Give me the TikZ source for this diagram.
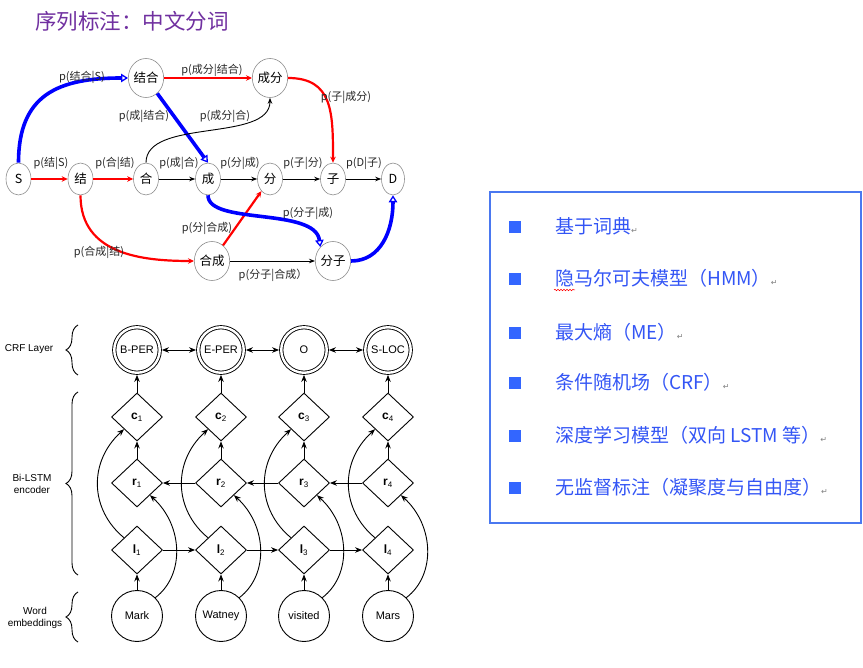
\documentclass[tikz,border=0pt]{standalone}
\usepackage{fontspec}
\setmainfont{Liberation Sans}
\newfontfamily\cjk{Noto Sans CJK SC}
\newfontfamily\dejavu{DejaVu Sans}
\usetikzlibrary{shapes.geometric,arrows.meta,decorations.pathreplacing,decorations.pathmorphing}
\definecolor{titlepurple}{HTML}{7030A0}
\definecolor{boxblue}{HTML}{4A78F0}
\definecolor{txtblue}{HTML}{3355F5}
\definecolor{bulletblue}{HTML}{3366FF}
\definecolor{ellgray}{HTML}{8C8C8C}
\newcommand\retmark{{\dejavu\fontsize{8}{8}\selectfont\textcolor{gray}{↵}}}
\begin{document}
\begin{tikzpicture}[x=1pt,y=-1pt,
  st/.style={ellipse, draw=ellgray, line width=0.6pt, fill=white, font=\cjk\fontsize{12.5}{12.5}\selectfont, inner sep=0pt, minimum width=25pt, minimum height=32pt},
  st2/.style={st, minimum width=34pt, minimum height=39pt},
  lbl/.style={font=\cjk\fontsize{11}{11}\selectfont, text=black!85, inner sep=0pt},
  redarr/.style={draw=red, line width=2.2pt, -{Stealth[length=6pt,width=5.5pt]}},
  bluearr/.style={draw=blue, line width=3.6pt, -{Triangle[open, length=7pt, width=8.5pt, line width=1.3pt]}},
  blackarr/.style={draw=black, line width=0.9pt, -{Stealth[length=6pt,width=4.5pt]}},
  crf/.style={circle, draw, double, double distance=2.4pt, line width=0.9pt, minimum size=45.5pt, inner sep=0pt, outer sep=2.2pt, font=\fontsize{11}{11}\selectfont},
  dia/.style={diamond, draw, line width=0.9pt, minimum width=51pt, minimum height=48pt, inner sep=0pt, font=\fontsize{12}{12}\selectfont},
  word/.style={circle, draw, line width=0.9pt, minimum size=51pt, inner sep=0pt, font=\fontsize{11}{11}\selectfont},
  barr/.style={draw, line width=0.9pt, -{Stealth[length=7pt,width=5.5pt]}},
  brc/.style={decorate, decoration={brace, amplitude=12pt}, line width=0.9pt},
  side/.style={font=\fontsize{10}{12}\selectfont, align=center, inner sep=0pt},
  bul/.style={fill=bulletblue, minimum size=12pt, inner sep=0pt},
  item/.style={anchor=base west, font=\cjk\fontsize{19}{19}\selectfont, text=txtblue, inner sep=0pt}
]
\useasboundingbox (0,0) rectangle (863,668);

% title
\node[anchor=base west, font=\cjk\fontsize{21.5}{22}\selectfont, text=titlepurple, inner sep=0pt] (title) at (35,29.5) {序列标注：中文分词};

% ---- word segmentation lattice ----
\node[st] (S) at (18.5,179) {S};
\node[st] (j) at (80.5,179) {结};
\node[st] (h) at (146,179) {合};
\node[st] (c) at (208,179) {成};
\node[st] (f) at (270,179) {分};
\node[st] (z) at (333,179) {子};
\node[st, minimum width=23pt] (D) at (393,179) {D};
\node[st2] (jh) at (146,78) {结合};
\node[st2] (cf) at (270,78) {成分};
\node[st2] (hc) at (212,261) {合成};
\node[st2] (fz) at (333,261) {分子};

\draw[redarr] (S) -- (j);
\draw[redarr] (j) -- (h);
\draw[blackarr] (h) -- (c);
\draw[blackarr] (c) -- (f);
\draw[blackarr] (f) -- (z);
\draw[blackarr] (z) -- (D);
\draw[redarr] (jh) -- (cf);
\draw[bluearr] (S.north) .. controls +(0,-68) and +(-70,0) .. (jh.west);
\draw[bluearr] (jh) -- (c.north);
\draw[blackarr] (h.north) .. controls +(0,-45) and +(0,45) .. (cf.south);
\draw[redarr] (cf.east) .. controls +(45,0) and +(0,-50) .. (z.north);
\draw[redarr] (j.south) .. controls +(0,60) and +(-50,0) .. (hc.west);
\draw[redarr] (hc) -- (f);
\draw[blackarr] (hc) -- (fz);
\draw[bluearr] (c.south) .. controls +(0,30) and +(-5,-40) .. (fz.north west);
\draw[bluearr] (fz.east) .. controls +(30,0) and +(0,35) .. (D.south);

\node[lbl] (l1) at (82,77) {p(结合|S)};
\node[lbl] (l2) at (212,70) {p(成分|结合)};
\node[lbl] (l3) at (346,97) {p(子|成分)};
\node[lbl] (l4) at (144,116) {p(成|结合)};
\node[lbl] (l5) at (225,116) {p(成分|合)};
\node[lbl] (l6) at (51,163) {p(结|S)};
\node[lbl] (l7) at (115,163) {p(合|结)};
\node[lbl] (l8) at (179,163) {p(成|合)};
\node[lbl] (l9) at (240,163) {p(分|成)};
\node[lbl] (l10) at (303,163) {p(子|分)};
\node[lbl] (l11) at (364,163) {p(D|子)};
\node[lbl] (l12) at (308,213) {p(分子|成)};
\node[lbl] (l13) at (207,228) {p(分|合成)};
\node[lbl] (l14) at (99,252) {p(合成|结)};
\node[lbl] (l15) at (273,275) {p(分子|合成）};

% ---- BiLSTM-CRF ----
\foreach \i/\x/\t/\w in {1/137/B-PER/Mark, 2/221/E-PER/Watney, 3/304/O/visited, 4/388/S-LOC/Mars}{
  \node[crf] (crf\i) at (\x,350) {\t};
  \node[dia] (c\i) at (\x,417) {\textbf{c}\textsubscript{\i}};
  \node[dia] (r\i) at (\x,483) {\textbf{r}\textsubscript{\i}};
  \node[dia] (l\i) at (\x,550) {\textbf{l}\textsubscript{\i}};
  \node[word] (w\i) at (\x,616) {\w};
}
\foreach \i in {1,...,4}{
  \draw[barr] (w\i) -- (l\i);
  \draw[barr] (r\i) -- (c\i);
  \draw[barr] (c\i) -- (crf\i);
  \draw[barr] (l\i.north west) .. controls +(-34,-28) and +(-36,33) .. (c\i.south west);
  \draw[barr] (w\i.45) .. controls +(30,-23) and +(33,30) .. (r\i.south east);
}
\foreach \i in {1,2,3}{
  \pgfmathtruncatemacro\j{\i+1}
  \draw[barr] (l\i) -- (l\j);
  \draw[barr] (r\j) -- (r\i);
  \draw[barr, {Stealth[length=7pt,width=5.5pt]}-{Stealth[length=7pt,width=5.5pt]}] (crf\i) -- (crf\j);
}
\draw[brc] (78,375) -- (78,325);
\draw[brc] (78,575) -- (78,392);
\draw[brc] (78,642) -- (78,592);
\node[side] (s1) at (29,349) {CRF Layer};
\node[side] (s2) at (32,484) {Bi-LSTM\\encoder};
\node[side] (s3) at (35,618) {Word\\embeddings};

% ---- right box ----
\draw[boxblue, line width=1.3pt] (490,192) rectangle (861,523);
\foreach \k/\y in {1/227,2/279,3/333,4/383,5/436,6/488}{
  \node[bul] (b\k) at (515,\y) {};
}
\node[item] (t1) at (555,233.5) {基于词典\retmark};
\node[item] (t2) at (555,285.5) {隐马尔可夫模型（HMM）\retmark};
\node[item] (t3) at (555,339.5) {最大熵（ME）\retmark};
\node[item] (t4) at (555,389.5) {条件随机场（CRF）\retmark};
\node[item] (t5) at (555,442.5) {深度学习模型（双向 LSTM 等）\retmark};
\node[item] (t6) at (555,494.5) {无监督标注（凝聚度与自由度）\retmark};
\draw[red, line width=0.5pt, decorate, decoration={snake, amplitude=0.8pt, segment length=3pt}] (554,290) -- (575,290);
\end{tikzpicture}
\end{document}
